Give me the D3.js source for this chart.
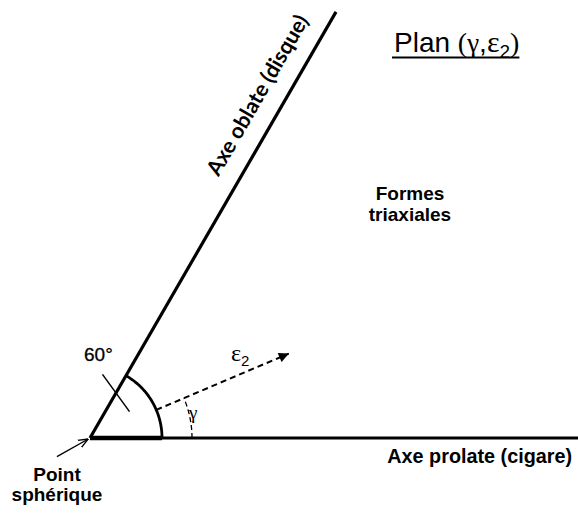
<!DOCTYPE html>
<html><head><meta charset="utf-8">
<script src="https://cdn.jsdelivr.net/npm/d3@7"></script>
<style>
html,body{margin:0;padding:0;background:#fff;}
svg{display:block;}
</style></head>
<body>
<script>
// ---- data (polar: angle in degrees, radius in diagram units) ----
const axes = [
  {name: "prolate", angle: 0,  length: 488, width: 3},
  {name: "oblate",  angle: 60, length: 492, width: 3.2}
];
const sphereArc   = {radius: 72, start: 0, end: 60};
const eps2Vector  = {angle: 23, from: 72, to: 216};
const gammaArc    = {radius: 102, start: 0, end: 23};
const angleTick   = {along: 52, angle: 60, half: 23, tilt: -54};
const pointerArrow = {angle: 209.5, from: 2, to: 38};
const labels = {
  title: "Plan", oblate: "Axe oblate (disque)", prolate: "Axe prolate (cigare)",
  triax: ["Formes", "triaxiales"], sphere: ["Point", "sphérique"], deg: "60°"
};

const W = 578, H = 513;
const svg = d3.select("body").append("svg").attr("width", W).attr("height", H);

const x = d3.scaleLinear().domain([0, 488]).range([90, 578]);
const y = d3.scaleLinear().domain([0, 438]).range([438, 0]);
const rad = d => d * Math.PI / 180;
const P = (r, a) => [x(r * Math.cos(rad(a))), y(r * Math.sin(rad(a)))];
const line = d3.line();

// axes
axes.forEach(ax => {
  svg.append("path").attr("d", line([P(0, ax.angle), P(ax.length, ax.angle)]))
    .attr("stroke", "#000").attr("stroke-width", ax.width).attr("fill", "none");
});
// thicker base segment under arc
svg.append("path").attr("d", line([P(0, 0), P(sphereArc.radius, 0)]))
  .attr("stroke", "#000").attr("stroke-width", 4.5);

// sphere arc
const arcPts = d3.range(sphereArc.start, sphereArc.end + 0.5, 1).map(a => P(sphereArc.radius, a));
svg.append("path").attr("d", line(arcPts)).attr("stroke", "#000")
  .attr("stroke-width", 2.8).attr("fill", "none");

// tick across oblate axis
const tc = P(angleTick.along, angleTick.angle);
const tdx = angleTick.half * Math.cos(rad(angleTick.tilt)), tdy = -angleTick.half * Math.sin(rad(angleTick.tilt));
svg.append("path").attr("d", line([[tc[0] - tdx, tc[1] - tdy], [tc[0] + tdx, tc[1] + tdy]]))
  .attr("stroke", "#000").attr("stroke-width", 1.5);

// gamma dashed arc
const gPts = d3.range(gammaArc.start, gammaArc.end + 0.5, 1).map(a => P(gammaArc.radius, a));
svg.append("path").attr("d", line(gPts)).attr("stroke", "#000")
  .attr("stroke-width", 1.3).attr("fill", "none").attr("stroke-dasharray", "5,3");

// arrow markers
const defs = svg.append("defs");
defs.append("marker").attr("id", "fill").attr("viewBox", "0 0 10 10").attr("refX", 10).attr("refY", 5)
  .attr("markerWidth", 12).attr("markerHeight", 10).attr("markerUnits", "userSpaceOnUse")
  .attr("orient", "auto").append("path").attr("d", "M0,0L10,5L0,10z").attr("fill", "#000");
defs.append("marker").attr("id", "open").attr("viewBox", "0 0 10 10").attr("refX", 10).attr("refY", 5)
  .attr("markerWidth", 10).attr("markerHeight", 10).attr("markerUnits", "userSpaceOnUse")
  .attr("orient", "auto").append("path").attr("d", "M0,1L10,5L0,9").attr("fill", "none")
  .attr("stroke", "#000").attr("stroke-width", 1.4);

// eps2 dashed vector
svg.append("path").attr("d", line([P(eps2Vector.from, eps2Vector.angle), P(eps2Vector.to, eps2Vector.angle)]))
  .attr("stroke", "#000").attr("stroke-width", 2).attr("stroke-dasharray", "6,4")
  .attr("fill", "none").attr("marker-end", "url(#fill)");

// pointer arrow to origin
svg.append("path").attr("d", line([P(pointerArrow.to, pointerArrow.angle), P(pointerArrow.from, pointerArrow.angle)]))
  .attr("stroke", "#000").attr("stroke-width", 1.4).attr("fill", "none").attr("marker-end", "url(#open)");

// ---- text ----
const bold = "'Liberation Sans', Arial, sans-serif";
svg.append("text").attr("x", 84).attr("y", 361).attr("font-family", bold).attr("font-size", 19)
  .attr("stroke", "#000").attr("stroke-width", 0.3).text(labels.deg);

// eps2 label
const e = svg.append("text").attr("x", 231).attr("y", 361);
e.append("tspan").attr("font-family", "'Liberation Serif', serif").attr("font-size", 24).text("ε");
e.append("tspan").attr("font-family", bold).attr("font-size", 15).attr("dy", 5).text("2");

// gamma label
svg.append("text").attr("x", 189).attr("y", 419).attr("font-family", "'Liberation Serif', serif")
  .attr("font-size", 19).text("γ");

// prolate label
svg.append("text").attr("x", 572).attr("y", 463).attr("text-anchor", "end").attr("font-family", bold)
  .attr("font-weight", "bold").attr("font-size", 19.8).text(labels.prolate);

// triaxial
labels.triax.forEach((t, i) => svg.append("text").attr("x", 410).attr("y", 200 + i * 21)
  .attr("text-anchor", "middle").attr("font-family", bold).attr("font-weight", "bold")
  .attr("font-size", 19).text(t));

// sphere point
labels.sphere.forEach((t, i) => svg.append("text").attr("x", 57).attr("y", 481 + i * 20)
  .attr("text-anchor", "middle").attr("font-family", bold).attr("font-weight", "bold")
  .attr("font-size", 19).text(t));

// oblate axis label (rotated)
const ob = P(290, 60);
const off = 19;
svg.append("text").attr("transform", `translate(${ob[0] - off * Math.cos(rad(30))},${ob[1] - off * Math.sin(rad(30))}) rotate(-60)`)
  .attr("font-family", "Lato, sans-serif").attr("font-weight", "bold").attr("font-size", 21.5)
  .text(labels.oblate);

// title
const tt = svg.append("text").attr("x", 394).attr("y", 52).attr("font-size", 28).attr("font-family", bold);
tt.append("tspan").text("Plan ");
tt.append("tspan").attr("font-family", "'Liberation Serif', serif").text("(");
tt.append("tspan").attr("font-family", "'Liberation Serif', serif").attr("font-size", 27).text("γ");
tt.append("tspan").text(",");
tt.append("tspan").attr("font-family", "'Liberation Serif', serif").attr("font-size", 30).text("ε");
tt.append("tspan").attr("font-size", 19).attr("dy", 6).text("2");
tt.append("tspan").attr("dy", -6).attr("font-family", "'Liberation Serif', serif").text(")");
const bb = tt.node().getBBox();
svg.append("line").attr("x1", bb.x - 2).attr("x2", bb.x + bb.width).attr("y1", 57.5).attr("y2", 57.5)
  .attr("stroke", "#000").attr("stroke-width", 1.8);
</script>
</body></html>
